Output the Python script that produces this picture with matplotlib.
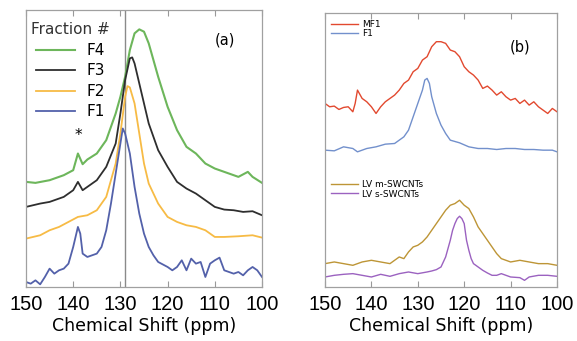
import numpy as np
import matplotlib.pyplot as plt

# ---- panel (a): fractions F1-F4 (intensity in arbitrary units, stacked) ----
f4_ppm = [150, 148, 145, 142, 140, 139, 138, 137, 135, 133, 131, 130, 129, 128, 127, 126, 125, 124,
          122, 120, 118, 116, 114, 112, 110, 108, 105, 103, 102, 100]
f4_int = [315, 312, 320, 335, 350, 400, 368, 382, 400, 440, 520, 570, 630, 710, 760, 772, 765, 730,
          630, 540, 470, 420, 400, 370, 355, 345, 330, 345, 330, 312]

f3_ppm = [150, 147, 145, 142, 140, 139, 138, 137, 135, 133, 131, 130, 129, 128, 127.5, 127, 126, 125,
          124, 122, 120, 118, 116, 114, 112, 110, 108, 106, 104, 102, 100]
f3_int = [240, 250, 255, 270, 290, 315, 290, 300, 320, 360, 430, 520, 620, 685, 688, 670, 610, 550,
          490, 410, 360, 315, 295, 280, 260, 240, 232, 230, 225, 227, 215]

f2_ppm = [150, 147, 145, 143, 141, 139, 137, 135, 133, 131, 130, 129, 128.5, 128, 127, 126, 125, 124,
          122, 120, 118, 116, 114, 112, 110, 108, 105, 102, 100]
f2_int = [145, 155, 170, 180, 195, 210, 215, 230, 270, 370, 460, 570, 602, 598, 550, 460, 370, 310,
          250, 210, 195, 185, 180, 170, 150, 150, 152, 155, 148]

f1_ppm = [150, 149, 148, 147, 146, 145, 144, 143, 142, 141, 140, 139, 138.5, 138, 137, 135, 134, 133,
          132, 131, 130, 129.5, 129, 128, 127, 126, 125, 124, 123, 122, 120, 119, 118, 117, 116, 115,
          114, 113, 112, 111, 110, 109, 108, 107, 106, 105, 104, 103, 102, 101, 100]
f1_int = [15, 10, 20, 8, 30, 55, 40, 50, 55, 70, 120, 180, 160, 100, 90, 100, 120, 170,
          250, 340, 430, 475, 460, 400, 300, 220, 160, 120, 95, 75, 60, 50, 60, 80, 50, 85,
          70, 75, 30, 70, 80, 88, 50, 45, 40, 45, 35, 50, 60, 50, 30]

# ---- panel (b) ----
mf1_ppm = [150, 149, 148, 147, 146, 145, 144, 143.5, 143, 142, 141, 140, 139, 138, 137, 136, 135, 134,
           133, 132, 131, 130, 129, 128, 127, 126, 125, 124, 123, 122, 121, 120, 119, 118, 117, 116,
           115, 114, 113, 112, 111, 110, 109, 108, 107, 106, 105, 104, 103, 102, 101, 100]
mf1_int = [550, 540, 542, 532, 538, 540, 525, 550, 590, 565, 555, 540, 520, 540, 555, 565, 575, 590,
           610, 620, 645, 655, 680, 690, 720, 735, 735, 730, 710, 705, 690, 660, 645, 635, 620, 595,
           602, 590, 575, 585, 570, 560, 565, 550, 560, 545, 555, 540, 530, 520, 535, 525]

f1b_ppm = [150, 148, 146, 144, 143, 141, 139, 137, 135, 134, 133, 132, 131, 130, 129, 128.5, 128, 127.5,
           127, 126, 125, 124, 123, 121, 119, 117, 115, 113, 111, 109, 107, 105, 103, 101, 100]
f1b_int = [410, 408, 420, 415, 405, 415, 420, 428, 430, 440, 450, 470, 510, 550, 590, 620, 625, 610,
           570, 520, 485, 460, 440, 432, 420, 415, 415, 412, 415, 415, 412, 412, 410, 410, 405]

lvm_ppm = [150, 148, 146, 144, 142, 140, 138, 136, 134, 133, 132, 131, 130, 129, 128, 127, 126, 125,
           124, 123, 122, 121, 120, 119, 118, 117, 116, 115, 114, 113, 112, 111, 110, 108, 106, 104,
           102, 100]
lvm_int = [70, 75, 70, 65, 75, 80, 75, 70, 90, 85, 105, 120, 125, 135, 150, 170, 190, 210,
           230, 245, 250, 260, 245, 235, 210, 180, 160, 140, 120, 100, 85, 80, 75, 80, 75, 70,
           70, 65]

lvs_ppm = [150, 148, 146, 144, 142, 140, 138, 136, 134, 132, 130, 128, 127, 126, 125, 124, 123, 122.5,
           122, 121.5, 121, 120.5, 120, 119.5, 119, 118.5, 118, 117, 116, 115, 114, 113, 112, 110,
           108, 107, 106, 104, 102, 100]
lvs_int = [30, 35, 38, 40, 35, 30, 38, 32, 40, 45, 40, 45, 48, 52, 60, 90, 140, 170,
           190, 205, 212, 205, 190, 140, 110, 85, 70, 60, 50, 42, 35, 35, 40, 30,
           28, 20, 30, 35, 35, 32]

ref_ppm = 129
star_ppm = 139

fig = plt.figure(figsize=(5.77, 3.41), dpi=100)
ax1 = fig.add_axes([26 / 577, 54 / 341, 236 / 577, 277 / 341])
ax2 = fig.add_axes([325 / 577, 54 / 341, 232 / 577, 274 / 341])

# panel (a)
ax1.axvline(ref_ppm, color='#8a8a8a', lw=1.0, zorder=1)
ax1.plot(f4_ppm, f4_int, color='#6db65b', lw=1.5, label='F4')
ax1.plot(f3_ppm, f3_int, color='#2e2e2e', lw=1.3, label='F3')
ax1.plot(f2_ppm, f2_int, color='#f7bb45', lw=1.3, label='F2')
ax1.plot(f1_ppm, f1_int, color='#5361aa', lw=1.3, label='F1')
ax1.set_ylim(0, 830)
ax1.text(star_ppm, 455, '*', ha='center', va='center', fontsize=11)
ax1.text(0.845, 0.89, '(a)', transform=ax1.transAxes, ha='center', va='center', fontsize=10.5)
leg = ax1.legend(title='Fraction #', loc='upper left', bbox_to_anchor=(0.02, 0.955),
                 frameon=False, fontsize=11, title_fontsize=11, handlelength=2.6,
                 handletextpad=0.7, labelspacing=0.36, borderpad=0, borderaxespad=0)
leg.get_title().set_color('#333333')

# panel (b)
l1, = ax2.plot(mf1_ppm, mf1_int, color='#e2492f', lw=1.0)
l2, = ax2.plot(f1b_ppm, f1b_int, color='#7290cc', lw=1.0)
l3, = ax2.plot(lvm_ppm, lvm_int, color='#bd9536', lw=1.0)
l4, = ax2.plot(lvs_ppm, lvs_int, color='#9b62c0', lw=1.0)
ax2.set_ylim(0, 821)
ax2.text(0.84, 0.875, '(b)', transform=ax2.transAxes, ha='center', va='center', fontsize=10.5)
legb1 = ax2.legend([l1, l2], ['MF1', 'F1'], loc='upper left', bbox_to_anchor=(0.025, 0.975),
                   frameon=False, fontsize=6.5, handlelength=3.0, handletextpad=0.5,
                   labelspacing=0.05, borderpad=0, borderaxespad=0)
ax2.add_artist(legb1)
ax2.legend([l3, l4], ['LV m-SWCNTs', 'LV s-SWCNTs'], loc='upper left', bbox_to_anchor=(0.025, 0.39),
           frameon=False, fontsize=6.5, handlelength=3.0, handletextpad=0.5,
           labelspacing=0.05, borderpad=0, borderaxespad=0)

for ax in (ax1, ax2):
    ax.set_xlim(150, 100)
    ax.set_xticks([150, 140, 130, 120, 110, 100])
    ax.set_yticks([])
    ax.tick_params(axis='x', direction='in', top=True, length=4, width=0.8, color='#999999',
                   labelsize=14.5, pad=6)
    for lab in ax.get_xticklabels():
        lab.set_fontfamily('Liberation Sans')
    for s in ax.spines.values():
        s.set_color('#a0a0a0')
        s.set_linewidth(0.9)
    ax.set_xlabel('Chemical Shift (ppm)', fontsize=12.5, labelpad=2)

fig.savefig('out.png', dpi=100)
